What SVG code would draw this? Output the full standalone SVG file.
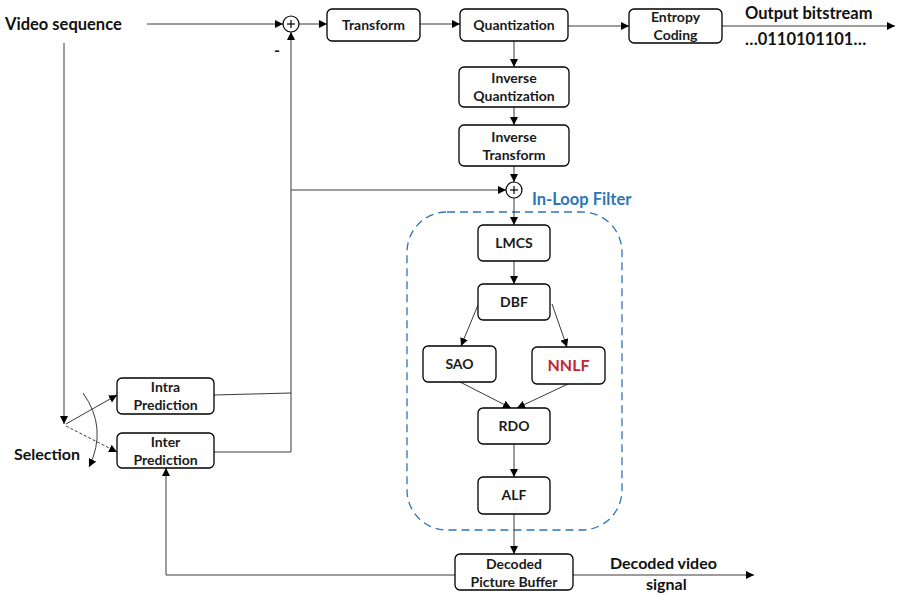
<svg xmlns="http://www.w3.org/2000/svg" width="899" height="596" viewBox="0 0 899 596">
  <defs>
    <marker id="arr" viewBox="0 0 10 10" refX="10" refY="5" markerWidth="8" markerHeight="8" markerUnits="userSpaceOnUse" orient="auto">
      <path d="M0,0 L10,5 L0,10 z" fill="#000"/>
    </marker>
    <style>
      .box { fill: #fff; stroke: #000; stroke-width: 1.3; }
      .lbl { font-family: Lato, "Open Sans", "Liberation Sans", sans-serif; font-weight: bold; font-size: 14px; fill: #1a1a1a; text-anchor: middle; }
      .big { font-family: Lato, "Open Sans", "Liberation Sans", sans-serif; font-weight: bold; font-size: 16.5px; fill: #111; }
      .ln { fill: none; stroke: #3a3a3a; stroke-width: 1; }
      .sum { fill: #fff; stroke: #000; stroke-width: 1.2; }
      .plus { stroke: #000; stroke-width: 1.2; }
    </style>
  </defs>
  <rect width="899" height="596" fill="#fff"/>

  <!-- free labels -->
  <text class="big" x="5" y="30">Video sequence</text>
  <text class="big" x="745" y="19">Output bitstream</text>
  <text class="big" x="745" y="45">…0110101101…</text>
  <text class="big" x="14" y="460" style="font-size:16px">Selection</text>
  <text class="big" x="610" y="569" style="font-size:16px">Decoded video</text>
  <text class="big" x="646" y="590" style="font-size:16px">signal</text>
  <text class="big" x="274" y="56" style="font-size:16px">-</text>
  <text class="big" x="532" y="205" style="font-size:16.5px;fill:#2e75b6">In-Loop Filter</text>

  <!-- in-loop filter region -->
  <rect x="407" y="212" width="215" height="318" rx="40" ry="40" fill="none" stroke="#2e75b6" stroke-width="1.3" stroke-dasharray="8,5"/>

  <!-- connectors -->
  <g id="connectors">
    <line class="ln" x1="147" y1="24" x2="283" y2="24" marker-end="url(#arr)"/>
    <line class="ln" x1="299" y1="24" x2="327" y2="24" marker-end="url(#arr)"/>
    <line class="ln" x1="420" y1="24" x2="460" y2="24" marker-end="url(#arr)"/>
    <line class="ln" x1="568" y1="26" x2="629" y2="26" marker-end="url(#arr)"/>
    <line class="ln" x1="722" y1="26" x2="895" y2="26" marker-end="url(#arr)"/>
    <line class="ln" x1="514" y1="41" x2="514" y2="67" marker-end="url(#arr)"/>
    <line class="ln" x1="514" y1="107" x2="514" y2="125" marker-end="url(#arr)"/>
    <line class="ln" x1="514" y1="166" x2="514" y2="182" marker-end="url(#arr)"/>
    <line class="ln" x1="291" y1="190" x2="506" y2="190" marker-end="url(#arr)"/>
    <line class="ln" x1="514" y1="198" x2="514" y2="225" marker-end="url(#arr)"/>
    <line class="ln" x1="514" y1="261" x2="514" y2="284" marker-end="url(#arr)"/>
    <line class="ln" x1="478" y1="305" x2="461" y2="346" marker-end="url(#arr)"/>
    <line class="ln" x1="552" y1="304" x2="567" y2="347" marker-end="url(#arr)"/>
    <line class="ln" x1="460" y1="382" x2="511" y2="408" marker-end="url(#arr)"/>
    <line class="ln" x1="568" y1="384" x2="517" y2="408" marker-end="url(#arr)"/>
    <line class="ln" x1="514" y1="444" x2="514" y2="477" marker-end="url(#arr)"/>
    <line class="ln" x1="514" y1="514" x2="514" y2="554" marker-end="url(#arr)"/>
    <!-- prediction feedback to subtractor -->
    <polyline class="ln" points="214,395 291,393"/>
    <polyline class="ln" points="214,452 291,452 291,32" marker-end="url(#arr)"/>
    <!-- selection switch -->
    <line class="ln" x1="64" y1="43" x2="64" y2="424" marker-end="url(#arr)"/>
    <line class="ln" x1="66" y1="424" x2="117" y2="395" marker-end="url(#arr)"/>
    <line class="ln" x1="66" y1="426" x2="117" y2="452" stroke-dasharray="3,2" marker-end="url(#arr)"/>
    <path class="ln" d="M83,393 Q108,428 89,467" marker-end="url(#arr)"/>
    <!-- decoded picture buffer outputs -->
    <polyline class="ln" points="455,575 166,575 166,468" marker-end="url(#arr)"/>
    <line class="ln" x1="573" y1="575" x2="754" y2="575" marker-end="url(#arr)"/>
  </g>

  <!-- summation nodes -->
  <g id="sum1">
    <circle class="sum" cx="291" cy="24" r="8"/>
    <line class="plus" x1="287" y1="24" x2="295" y2="24"/>
    <line class="plus" x1="291" y1="20" x2="291" y2="28"/>
  </g>
  <g id="sum2">
    <circle class="sum" cx="514" cy="190" r="8"/>
    <line class="plus" x1="510" y1="190" x2="518" y2="190"/>
    <line class="plus" x1="514" y1="186" x2="514" y2="194"/>
  </g>

  <g id="transform">
    <rect class="box" x="327" y="9" width="93" height="32" rx="5"/>
    <text class="lbl" x="373.5" y="30">Transform</text>
  </g>
  <g id="quantization">
    <rect class="box" x="460" y="9" width="108" height="32" rx="5"/>
    <text class="lbl" x="514" y="30">Quantization</text>
  </g>
  <g id="entropy">
    <rect class="box" x="629" y="9" width="93" height="34" rx="5"/>
    <text class="lbl" x="675.5" y="22">Entropy</text>
    <text class="lbl" x="675.5" y="40">Coding</text>
  </g>
  <g id="invquant">
    <rect class="box" x="459" y="67" width="110" height="40" rx="5"/>
    <text class="lbl" x="514" y="83">Inverse</text>
    <text class="lbl" x="514" y="101">Quantization</text>
  </g>
  <g id="invtransform">
    <rect class="box" x="459" y="125" width="110" height="41" rx="5"/>
    <text class="lbl" x="514" y="142">Inverse</text>
    <text class="lbl" x="514" y="160">Transform</text>
  </g>
  <g id="lmcs">
    <rect class="box" x="478" y="225" width="72" height="36" rx="5"/>
    <text class="lbl" x="514" y="248">LMCS</text>
  </g>
  <g id="dbf">
    <rect class="box" x="478" y="284" width="72" height="36" rx="5"/>
    <text class="lbl" x="514" y="307">DBF</text>
  </g>
  <g id="sao">
    <rect class="box" x="423" y="346" width="73" height="36" rx="5"/>
    <text class="lbl" x="459.5" y="369">SAO</text>
  </g>
  <g id="nnlf">
    <rect class="box" x="532" y="347" width="73" height="37" rx="5"/>
    <text class="lbl" x="568.5" y="371" style="font-size:16px;fill:#c0282d">NNLF</text>
  </g>
  <g id="rdo">
    <rect class="box" x="478" y="408" width="72" height="36" rx="5"/>
    <text class="lbl" x="514" y="431">RDO</text>
  </g>
  <g id="alf">
    <rect class="box" x="478" y="477" width="72" height="37" rx="5"/>
    <text class="lbl" x="514" y="500">ALF</text>
  </g>
  <g id="dpb">
    <rect class="box" x="455" y="554" width="118" height="36" rx="5"/>
    <text class="lbl" x="514" y="569">Decoded</text>
    <text class="lbl" x="514" y="587">Picture Buffer</text>
  </g>
  <g id="intra">
    <rect class="box" x="117" y="378" width="97" height="36" rx="5"/>
    <text class="lbl" x="165.5" y="392">Intra</text>
    <text class="lbl" x="165.5" y="410">Prediction</text>
  </g>
  <g id="inter">
    <rect class="box" x="117" y="433" width="97" height="35" rx="5"/>
    <text class="lbl" x="165.5" y="447">Inter</text>
    <text class="lbl" x="165.5" y="465">Prediction</text>
  </g>
</svg>
